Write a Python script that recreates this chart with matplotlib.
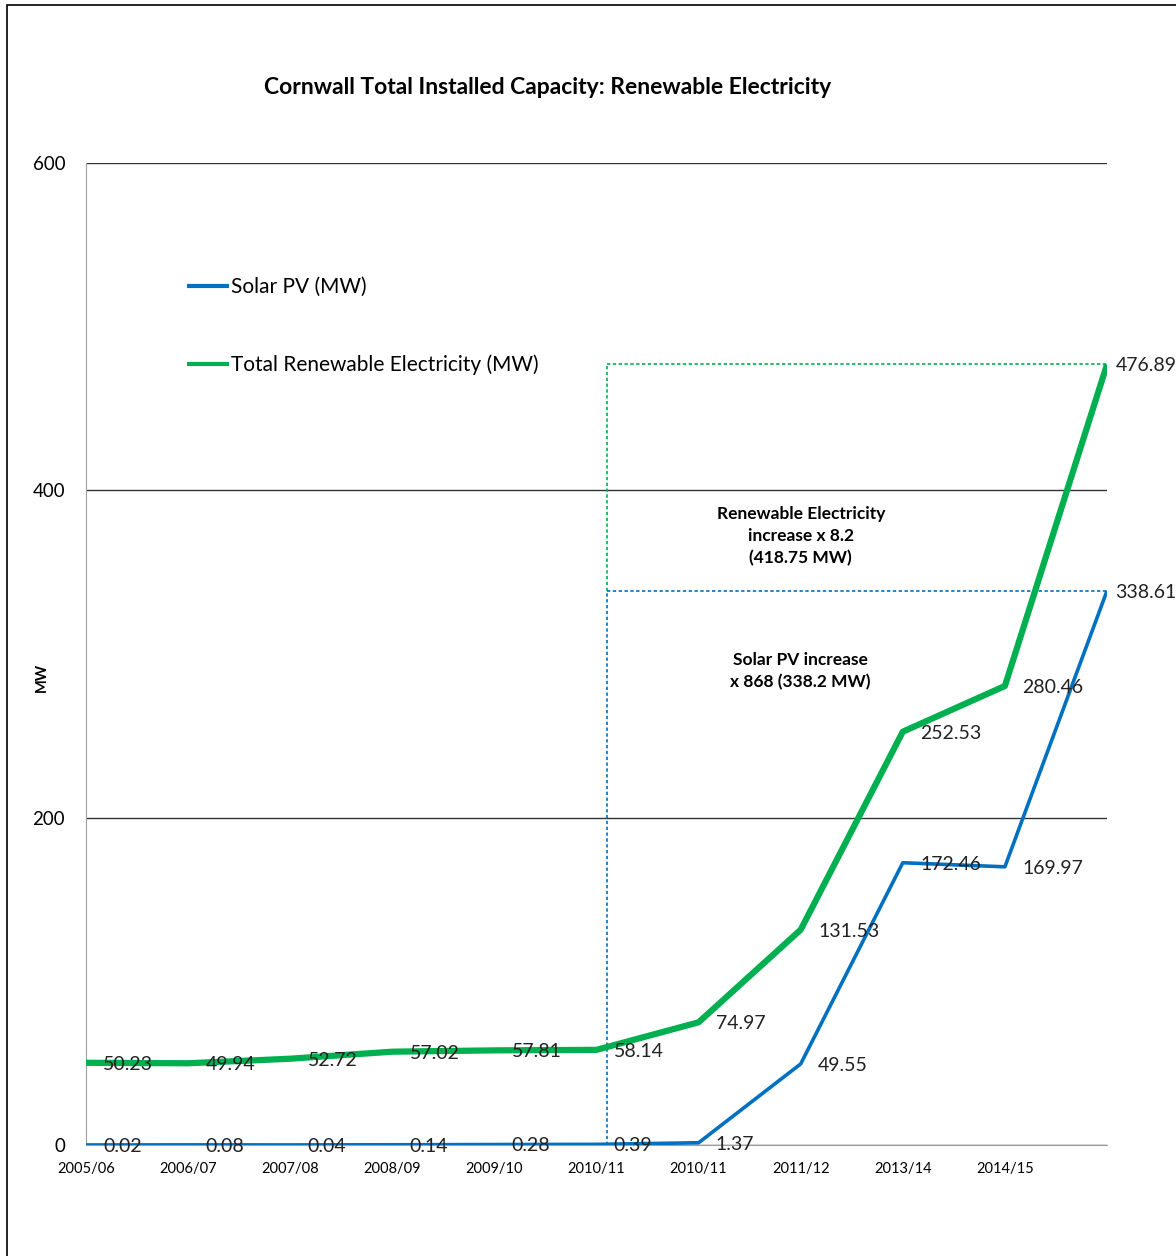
import matplotlib
matplotlib.use("Agg")
import matplotlib.pyplot as plt
from matplotlib.patches import Rectangle

plt.rcParams['font.family'] = ['Lato', 'DejaVu Sans']

x_labels = ["2005/06", "2006/07", "2007/08", "2008/09", "2009/10",
            "2010/11", "2010/11", "2011/12", "2013/14", "2014/15"]
solar = [0.02, 0.08, 0.04, 0.14, 0.28, 0.39, 1.37, 49.55, 172.46, 169.97, 338.61]
total = [50.23, 49.94, 52.72, 57.02, 57.81, 58.14, 74.97, 131.53, 252.53, 280.46, 476.89]
y_ticks = [0, 200, 400, 600]

GREEN = "#00B050"
BLUE = "#0070C0"

fig = plt.figure(figsize=(11.76, 12.56), dpi=100)
ax = fig.add_axes([86/1176, 1-1145/1256, (1107-86)/1176, (1145-163)/1256])

xs = list(range(len(solar)))
ax.plot(xs, solar, color=BLUE, lw=2.6, label="Solar PV (MW)", solid_capstyle='butt', zorder=4)
ax.plot(xs, total, color=GREEN, lw=4.5, label="Total Renewable Electricity (MW)", solid_capstyle='butt', zorder=3)

for series in (solar, total):
    for xi, v in zip(xs, series):
        dx = 6 if xi == xs[-1] else 12.5
        ax.annotate(f"{v:.2f}", (xi, v), xytext=(dx, -1), textcoords='offset points',
                    ha='left', va='center', fontsize=14, color='#222222',
                    annotation_clip=False, zorder=5)

# annotation dotted boxes
xv = 5.1
xe = xs[-1]
ax.plot([xv, xv], [solar[-1], total[-1]], color=GREEN, lw=1.2, ls=(0, (2, 1.5)), zorder=2)
ax.plot([xv, xe], [total[-1], total[-1]], color=GREEN, lw=1.2, ls=(0, (2, 1.5)), zorder=2)
ax.plot([xv, xv], [0, solar[-1]], color=BLUE, lw=1.2, ls=(0, (2, 1.5)), zorder=2)
ax.plot([xv, xe], [solar[-1], solar[-1]], color=BLUE, lw=1.2, ls=(0, (2, 1.5)), zorder=2)

ax.text(7.0, 390.5, "Renewable Electricity\nincrease x 8.2\n(418.75 MW)", ha='center', va='top',
        fontsize=12.5, fontweight='bold', linespacing=1.45)
ax.text(7.0, 301.5, "Solar PV increase\nx 868 (338.2 MW)", ha='center', va='top',
        fontsize=12.5, fontweight='bold', linespacing=1.45)

ax.set_xlim(0, 10)
ax.set_ylim(0, 600)
ax.set_yticks(y_ticks)
ax.set_yticklabels([str(t) for t in y_ticks], fontsize=13.5)
ax.set_xticks(range(len(x_labels)))
ax.set_xticklabels(x_labels, fontsize=10.5)
ax.tick_params(axis='both', length=0)
ax.tick_params(axis='y', pad=15)
ax.tick_params(axis='x', pad=12)
ax.grid(axis='y', color='#333333', lw=1)
ax.set_axisbelow(True)
for s in ['top', 'right']:
    ax.spines[s].set_visible(False)
ax.spines['left'].set_color('#A0A0A0')
ax.spines['bottom'].set_color('#A0A0A0')
ax.spines['bottom'].set_zorder(1)

fig.text(42/1176, 1-677/1256, "MW", rotation=90, ha='center', va='center',
         fontsize=10.5, fontweight='bold')

leg = ax.legend(loc='upper left', bbox_to_anchor=(0.081, 0.903), frameon=False, fontsize=15,
                handlelength=2.0, handletextpad=0.1, labelspacing=2.75)
for h in leg.get_lines():
    h.set_linewidth(3)

fig.text(548/1176, 1-87/1256, "Cornwall Total Installed Capacity: Renewable Electricity",
         ha='center', va='center', fontsize=16.5, fontweight='bold')

fig.patches.append(Rectangle((7/1176, -0.1), 1.2, (1-5/1256) + 0.1, transform=fig.transFigure,
                             fill=False, edgecolor='black', lw=1.2))

fig.savefig("out.png", dpi=100)
